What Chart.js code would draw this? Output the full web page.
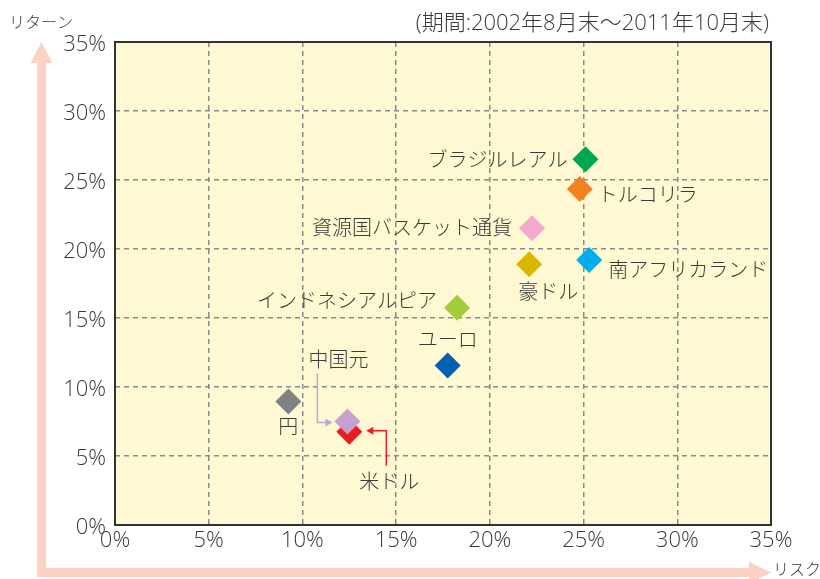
<!DOCTYPE html>
<html>
<head>
<meta charset="utf-8">
<script src="https://cdn.jsdelivr.net/npm/chart.js@4/dist/chart.umd.min.js"></script>
<style>
  body { margin: 0; background: #fff; }
  canvas { display: block; }
</style>
</head>
<body>
<canvas id="riskChart" width="820" height="579"></canvas>
<script>
// 通貨ごとのリスク・リターン（%）
const currencies = ['円', '米ドル', '中国元', 'ユーロ', 'インドネシアルピア', '豪ドル', '資源国バスケット通貨', '南アフリカランド', 'トルコリラ', 'ブラジルレアル'];
const riskValues = [9.25, 12.5, 12.4, 17.75, 18.25, 22.1, 22.25, 25.3, 24.8, 25.1];
const returnValues = [8.95, 6.75, 7.5, 11.55, 15.75, 18.9, 21.5, 19.2, 24.35, 26.5];
const pointColors = ['#808285', '#ED1C24', '#C6A0CE', '#0062B1', '#A3CD3A', '#DCB500', '#F5A8CE', '#00AEEF', '#F58220', '#00A651'];
const tickValues = [0, 5, 10, 15, 20, 25, 30, 35];

const FONT = '"Open Sans", "Noto Sans CJK JP", sans-serif';
const TEXT = '#3a3a3a';

// ラベル位置（点からのずれ）
const labelLayout = {
  '円': [0, 27, 'center'],
  '米ドル': [40, 51, 'center'],
  '中国元': [-9, -60, 'center'],
  'ユーロ': [0, -24, 'center'],
  'インドネシアルピア': [-20, -5, 'right'],
  '豪ドル': [-11, 29, 'left'],
  '資源国バスケット通貨': [-20, 1, 'right'],
  '南アフリカランド': [19, 11, 'left'],
  'トルコリラ': [18, 7, 'left'],
  'ブラジルレアル': [-18, 2, 'right']
};

function arrowHead(ctx, x, y, dir, len, half) {
  ctx.beginPath();
  if (dir === 'right') {
    ctx.moveTo(x, y); ctx.lineTo(x - len, y - half); ctx.lineTo(x - len, y + half);
  } else if (dir === 'left') {
    ctx.moveTo(x, y); ctx.lineTo(x + len, y - half); ctx.lineTo(x + len, y + half);
  } else {
    ctx.moveTo(x, y); ctx.lineTo(x - half, y + len); ctx.lineTo(x + half, y + len);
  }
  ctx.closePath();
  ctx.fill();
}

const backdrop = {
  id: 'backdrop',
  beforeDraw(chart) {
    const { ctx, chartArea: a } = chart;
    ctx.save();
    ctx.fillStyle = '#FFF9D3';
    ctx.fillRect(a.left, a.top, a.right - a.left, a.bottom - a.top);

    // 軸の矢印
    ctx.fillStyle = '#FCD2C3';
    ctx.fillRect(37, 62, 9, 515);
    arrowHead(ctx, 41.5, 42, 'up', 21, 11);
    ctx.fillRect(37, 568, 713, 9);
    arrowHead(ctx, 771, 572.5, 'right', 22, 11);

    ctx.fillStyle = TEXT;
    ctx.font = '300 16px ' + FONT;
    ctx.textBaseline = 'middle';
    ctx.textAlign = 'left';
    ctx.fillText('リターン', 9, 23);
    ctx.fillText('リスク', 773, 570);
    ctx.font = '300 22px ' + FONT;
    ctx.textAlign = 'right';
    ctx.fillText('(期間:2002年8月末～2011年10月末)', 769, 24);
    ctx.restore();
  },
  beforeDatasetsDraw(chart) {
    const { ctx, chartArea: a } = chart;
    ctx.save();
    ctx.strokeStyle = '#333';
    ctx.lineWidth = 2;
    ctx.strokeRect(a.left, a.top, a.right - a.left, a.bottom - a.top);
    ctx.restore();
  }
};

const pointLabels = {
  id: 'pointLabels',
  afterDatasetsDraw(chart) {
    const { ctx } = chart;
    const pts = chart.getDatasetMeta(0).data;
    ctx.save();

    // 中国元・米ドルの引き出し線
    const cny = pts[currencies.indexOf('中国元')];
    ctx.strokeStyle = '#C6A0CE';
    ctx.fillStyle = '#C6A0CE';
    ctx.lineWidth = 1.5;
    ctx.beginPath();
    ctx.moveTo(cny.x - 30, cny.y - 48);
    ctx.lineTo(cny.x - 30, cny.y + 1);
    ctx.lineTo(cny.x - 20, cny.y + 1);
    ctx.stroke();
    arrowHead(ctx, cny.x - 15, cny.y + 1, 'right', 7, 4);

    const usd = pts[currencies.indexOf('米ドル')];
    ctx.strokeStyle = '#ED1C24';
    ctx.fillStyle = '#ED1C24';
    ctx.beginPath();
    ctx.moveTo(usd.x + 37, usd.y + 34);
    ctx.lineTo(usd.x + 37, usd.y - 1);
    ctx.lineTo(usd.x + 22, usd.y - 1);
    ctx.stroke();
    arrowHead(ctx, usd.x + 17, usd.y - 1, 'left', 7, 4);

    ctx.fillStyle = TEXT;
    ctx.font = '300 20px ' + FONT;
    ctx.textBaseline = 'middle';
    currencies.forEach((name, i) => {
      const [dx, dy, align] = labelLayout[name];
      ctx.textAlign = align;
      ctx.fillText(name, pts[i].x + dx, pts[i].y + dy);
    });
    ctx.restore();
  }
};

const axisCommon = {
  type: 'linear',
  min: 0,
  max: 35,
  grid: { color: '#8a8a8a', lineWidth: 1.5, drawTicks: false },
  border: { display: false, dash: [5, 4] },
  afterBuildTicks(scale) { scale.ticks = tickValues.map(v => ({ value: v })); }
};

new Chart(document.getElementById('riskChart'), {
  type: 'scatter',
  data: {
    datasets: [{
      data: currencies.map((c, i) => ({ x: riskValues[i], y: returnValues[i] })),
      pointStyle: 'rectRot',
      pointRadius: 13,
      pointHoverRadius: 13,
      pointBackgroundColor: pointColors,
      pointBorderWidth: 0,
      borderWidth: 0
    }]
  },
  options: {
    responsive: false,
    devicePixelRatio: 1,
    animation: false,
    layout: { padding: { top: 42, right: 49, left: 0, bottom: 0 } },
    plugins: { legend: { display: false }, tooltip: { enabled: false } },
    scales: {
      x: {
        ...axisCommon,
        position: 'bottom',
        ticks: { callback: v => v + '%', color: TEXT, font: { family: FONT, size: 22, weight: 300 }, padding: 3, maxRotation: 0 },
        afterFit(scale) { scale.height = 54; }
      },
      y: {
        ...axisCommon,
        position: 'left',
        ticks: { callback: v => v + '%', color: TEXT, font: { family: FONT, size: 22, weight: 300 }, padding: 9, labelOffset: 3 },
        afterFit(scale) { scale.width = 115; }
      }
    }
  },
  plugins: [backdrop, pointLabels]
});
</script>
</body>
</html>
